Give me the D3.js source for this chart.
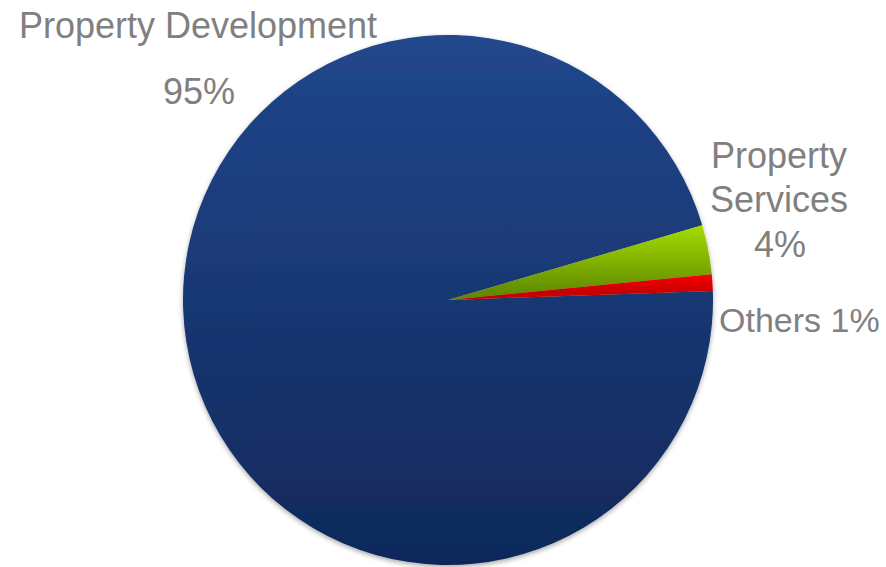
<!DOCTYPE html>
<html>
<head>
<meta charset="utf-8">
<script src="https://cdn.jsdelivr.net/npm/d3@7"></script>
<style>
  body { margin: 0; background: #fff; }
  svg { display: block; }
</style>
</head>
<body>
<div id="chart"></div>
<script>
// data
const categories = ["Property Development", "Property Services", "Others"];
const values = [96, 3, 1];
const percentLabels = ["95%", "4%", "1%"];

const WIDTH = 886, HEIGHT = 567;
const CX = 448, CY = 300, R = 265;

// gradient stops per slice (top colour, bottom colour)
const colorTop = ["#21478c", "#a6dc00", "#ff0000"];
const colorBottom = ["#10285a", "#5f8a00", "#c80000"];

const svg = d3.select("#chart").append("svg")
  .attr("width", WIDTH)
  .attr("height", HEIGHT);

const defs = svg.append("defs");

// vertical gradients in the pie group's coordinates
const gradRange = [[-R, R], [-75, -5], [-27, -8]];
categories.forEach((c, i) => {
  const g = defs.append("linearGradient")
    .attr("id", "grad" + i)
    .attr("gradientUnits", "userSpaceOnUse")
    .attr("x1", 0).attr("y1", gradRange[i][0])
    .attr("x2", 0).attr("y2", gradRange[i][1]);
  g.append("stop").attr("offset", "0%").attr("stop-color", colorTop[i]);
  g.append("stop").attr("offset", "100%").attr("stop-color", colorBottom[i]);
});

const shadow = defs.append("filter")
  .attr("id", "shadow")
  .attr("x", "-10%").attr("y", "-10%")
  .attr("width", "120%").attr("height", "120%");
shadow.append("feDropShadow")
  .attr("dx", 0).attr("dy", 2)
  .attr("stdDeviation", 2.5)
  .attr("flood-color", "#000")
  .attr("flood-opacity", 0.35);

const pie = d3.pie()
  .sort(null)
  .startAngle(88.03 * Math.PI / 180)
  .endAngle((88.03 + 360) * Math.PI / 180);

const arc = d3.arc().innerRadius(0).outerRadius(R);

const g = svg.append("g")
  .attr("transform", "translate(" + CX + "," + CY + ")")
  .attr("filter", "url(#shadow)");

g.selectAll("path")
  .data(pie(values))
  .enter().append("path")
  .attr("d", arc)
  .attr("fill", (d, i) => "url(#grad" + i + ")");

// labels
const labelLines = [
  [{ t: categories[0], x: 198, y: 38 }, { t: percentLabels[0], x: 199, y: 104 }],
  [{ t: "Property", x: 779, y: 168 }, { t: "Services", x: 779, y: 212 }, { t: percentLabels[1], x: 780, y: 257 }],
  [{ t: categories[2] + " " + percentLabels[2], x: 719, y: 332, anchor: "start", size: 34 }]
];

labelLines.forEach(lines => {
  lines.forEach(l => {
    svg.append("text")
      .attr("x", l.x)
      .attr("y", l.y)
      .attr("text-anchor", l.anchor || "middle")
      .attr("font-family", "Liberation Sans, Arial, sans-serif")
      .attr("font-size", l.size || 36)
      .attr("fill", "#808080")
      .text(l.t);
  });
});
</script>
</body>
</html>
